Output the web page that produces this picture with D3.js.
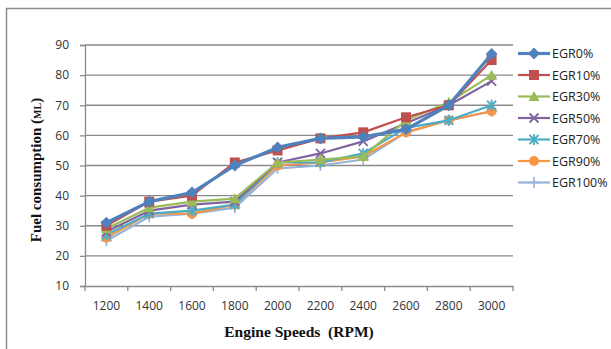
<!DOCTYPE html>
<html>
<head>
<meta charset="utf-8">
<script src="https://cdn.jsdelivr.net/npm/d3@7"></script>
<style>
  body { margin: 0; background: #fff; }
  svg { display: block; }
</style>
</head>
<body>
<div id="chart"></div>
<script>
// Engine speed categories (RPM)
var SPEEDS = [1200, 1400, 1600, 1800, 2000, 2200, 2400, 2600, 2800, 3000];
var Y_TICKS = [10, 20, 30, 40, 50, 60, 70, 80, 90];

// Fuel consumption per EGR rate
var EGR0 = [31, 38, 41, 50, 56, 59, 59.5, 62, 70, 87];
var EGR10 = [30, 38, 40, 51, 55, 59, 61, 66, 70, 85];
var EGR30 = [29, 36, 38, 39, 51, 52, 53, 65, 71, 80];
var EGR50 = [28, 35, 37, 38, 51, 54, 58, 64, 70, 78];
var EGR70 = [27, 34, 35, 37, 51, 51, 54, 62.5, 65, 70];
var EGR90 = [26, 34, 34, 37, 50, 51, 53, 61, 65, 68];
var EGR100 = [25, 33, 34, 36, 49, 50, 52, 61, 65, 68];

var SERIES = [
  { name: "EGR0%", values: EGR0, color: "#4F81BD", marker: "diamond", width: 3.2 },
  { name: "EGR10%", values: EGR10, color: "#C0504D", marker: "square", width: 2.2 },
  { name: "EGR30%", values: EGR30, color: "#9BBB59", marker: "triangle", width: 2.2 },
  { name: "EGR50%", values: EGR50, color: "#8064A2", marker: "x", width: 2.2 },
  { name: "EGR70%", values: EGR70, color: "#4BACC6", marker: "star", width: 2.2 },
  { name: "EGR90%", values: EGR90, color: "#F79646", marker: "circle", width: 2.2 },
  { name: "EGR100%", values: EGR100, color: "#95B3D7", marker: "plus", width: 2.2 }
];

var W = 611, H = 349;
var plotLeft = 85, plotRight = 513, plotTop = 45, plotBottom = 286;

var svg = d3.select("#chart").append("svg")
  .attr("width", W).attr("height", H);

svg.append("rect").attr("width", W).attr("height", H).attr("fill", "#fff");

// outer chart border (only top and left visible in the crop)
svg.append("path")
  .attr("d", "M6.5," + H + "V8.5H" + W)
  .attr("fill", "none").attr("stroke", "#8c8c8c").attr("stroke-width", 1.5);

var x = d3.scaleBand().domain(SPEEDS).range([plotLeft, plotRight]);
var y = d3.scaleLinear().domain([10, 90]).range([plotBottom, plotTop]);

// gridlines
svg.append("g").selectAll("line").data(Y_TICKS.slice(1)).enter().append("line")
  .attr("x1", plotLeft).attr("x2", plotRight)
  .attr("y1", function(d) { return y(d); }).attr("y2", function(d) { return y(d); })
  .attr("stroke", "#8a8a8a").attr("stroke-width", 1.3);

// y axis
var yAxis = svg.append("g").attr("transform", "translate(" + plotLeft + ",0)")
  .call(d3.axisLeft(y).tickValues(Y_TICKS).tickSize(5).tickPadding(11));
yAxis.select(".domain").attr("stroke", "#8a8a8a").attr("stroke-width", 1.3);
yAxis.selectAll(".tick line").attr("stroke", "#8a8a8a").attr("stroke-width", 1.3);
yAxis.selectAll("text").attr("font-family", "'Open Sans', sans-serif").attr("font-size", "12px").attr("fill", "#333");

// x axis
var xAxis = svg.append("g").attr("transform", "translate(0," + plotBottom + ")")
  .call(d3.axisBottom(x).tickSize(0).tickPadding(15));
xAxis.select(".domain").attr("stroke", "#8a8a8a").attr("stroke-width", 1.3);
xAxis.selectAll("text").attr("font-family", "'Open Sans', sans-serif").attr("font-size", "12px").attr("fill", "#333");
// tick marks between categories
var bounds = SPEEDS.map(function(d) { return x(d); }).concat([plotRight]);
svg.append("g").selectAll("line").data(bounds).enter().append("line")
  .attr("x1", function(d) { return d; }).attr("x2", function(d) { return d; })
  .attr("y1", plotBottom).attr("y2", plotBottom + 5)
  .attr("stroke", "#8a8a8a").attr("stroke-width", 1.3);

// axis titles
svg.append("text")
  .attr("x", 299).attr("y", 337)
  .attr("text-anchor", "middle")
  .attr("font-family", "'Liberation Serif', serif").attr("font-weight", "bold").attr("font-size", "15.5px")
  .attr("fill", "#111")
  .style("white-space", "pre")
  .text("Engine Speeds  (RPM)");

var yTitle = svg.append("text")
  .attr("transform", "translate(41," + 170 + ") rotate(-90)")
  .attr("text-anchor", "middle")
  .attr("font-family", "'Liberation Serif', serif").attr("font-weight", "bold").attr("font-size", "15px")
  .attr("fill", "#111");
yTitle.append("tspan").text("Fuel consumption (");
yTitle.append("tspan").attr("font-size", "10px").text("ML");
yTitle.append("tspan").text(")");

function drawMarker(g, type, cx, cy, color) {
  var s;
  if (type === "diamond") {
    g.append("path").attr("d", "M" + cx + "," + (cy - 6) + "L" + (cx + 6) + "," + cy + "L" + cx + "," + (cy + 6) + "L" + (cx - 6) + "," + cy + "Z")
      .attr("fill", color);
  } else if (type === "square") {
    g.append("rect").attr("x", cx - 5).attr("y", cy - 5).attr("width", 10).attr("height", 10).attr("fill", color);
  } else if (type === "triangle") {
    g.append("path").attr("d", "M" + cx + "," + (cy - 5.5) + "L" + (cx + 5.5) + "," + (cy + 4.5) + "L" + (cx - 5.5) + "," + (cy + 4.5) + "Z")
      .attr("fill", color);
  } else if (type === "x") {
    s = 4.5;
    g.append("path").attr("d", "M" + (cx - s) + "," + (cy - s) + "L" + (cx + s) + "," + (cy + s) + "M" + (cx - s) + "," + (cy + s) + "L" + (cx + s) + "," + (cy - s))
      .attr("stroke", color).attr("stroke-width", 1.8);
  } else if (type === "star") {
    s = 4.5;
    g.append("path").attr("d", "M" + (cx - s) + "," + (cy - s) + "L" + (cx + s) + "," + (cy + s) + "M" + (cx - s) + "," + (cy + s) + "L" + (cx + s) + "," + (cy - s) + "M" + cx + "," + (cy - s - 1) + "L" + cx + "," + (cy + s + 1))
      .attr("stroke", color).attr("stroke-width", 1.8);
  } else if (type === "circle") {
    g.append("circle").attr("cx", cx).attr("cy", cy).attr("r", 5).attr("fill", color);
  } else if (type === "plus") {
    s = 5.5;
    g.append("path").attr("d", "M" + (cx - s) + "," + cy + "L" + (cx + s) + "," + cy + "M" + cx + "," + (cy - s) + "L" + cx + "," + (cy + s))
      .attr("stroke", color).attr("stroke-width", 1.6);
  }
}

var line = d3.line()
  .x(function(d, i) { return x(SPEEDS[i]) + x.bandwidth() / 2; })
  .y(function(d) { return y(d); });

// draw from last series to first so EGR0% sits on top
SERIES.slice().reverse().forEach(function(s) {
  var g = svg.append("g");
  g.append("path").datum(s.values).attr("d", line)
    .attr("fill", "none").attr("stroke", s.color).attr("stroke-width", s.width)
    .attr("stroke-linejoin", "round");
  s.values.forEach(function(v, i) {
    drawMarker(g, s.marker, x(SPEEDS[i]) + x.bandwidth() / 2, y(v), s.color);
  });
});

// legend
var legend = svg.append("g");
SERIES.forEach(function(s, i) {
  var ly = 53.5 + i * 21.5;
  legend.append("line").attr("x1", 518).attr("x2", 550).attr("y1", ly).attr("y2", ly)
    .attr("stroke", s.color).attr("stroke-width", s.width);
  drawMarker(legend, s.marker, 534, ly, s.color);
  legend.append("text").attr("x", 552).attr("y", ly + 4.5)
    .attr("font-family", "'Open Sans', sans-serif").attr("font-size", "12.5px").attr("fill", "#222")
    .text(s.name);
});
</script>
</body>
</html>
